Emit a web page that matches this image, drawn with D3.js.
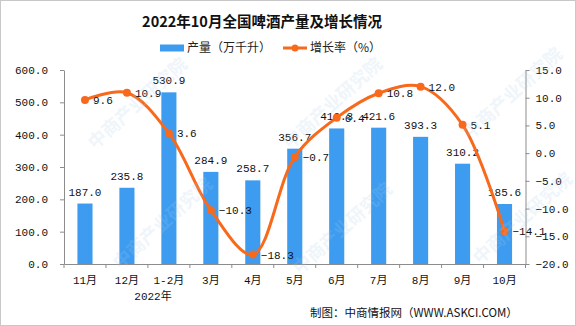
<!DOCTYPE html>
<html>
<head>
<meta charset="utf-8">
<script src="https://cdn.jsdelivr.net/npm/d3@7"></script>
<style>
  body { margin: 0; background: #fff; }
  svg { display: block; }
</style>
</head>
<body>
<script>
// 2022年10月全国啤酒产量及增长情况
const categories = ["11月", "12月", "1-2月", "3月", "4月", "5月", "6月", "7月", "8月", "9月", "10月"];
const output = [187.0, 235.8, 530.9, 284.9, 258.7, 356.7, 419.3, 421.6, 393.3, 310.2, 185.6]; // 万千升
const growth = [9.6, 10.9, 3.6, -10.3, -18.3, -0.7, 6.4, 10.8, 12.0, 5.1, -14.1]; // %
const leftTicks = [0, 100, 200, 300, 400, 500, 600];
const rightTicks = [-20, -15, -10, -5, 0, 5, 10, 15];

const width = 576, height = 326;
const margin = { top: 70, right: 50.5, bottom: 62, left: 64 };
const blue = "#3E9CF0", orange = "#F8691C", axisColor = "#8c8c8c";
const numFont = "'Liberation Mono', 'Noto Sans CJK SC', monospace";
const cjkFont = "'Noto Sans CJK SC', sans-serif";

const svg = d3.select("body")
    .append("svg")
    .attr("width", width)
    .attr("height", height);

// outer frame
svg.append("rect")
    .attr("x", 0.5).attr("y", 0.5)
    .attr("width", width - 1).attr("height", height - 1)
    .attr("fill", "#fff")
    .attr("stroke", "#c8c8c8");

const x = d3.scaleBand()
    .domain(categories)
    .range([margin.left, width - margin.right]);
const barW = x.bandwidth() * 0.36;
const cx = d => x(d) + x.bandwidth() / 2;

const yL = d3.scaleLinear().domain([0, 600]).range([height - margin.bottom, margin.top]);
const yR = d3.scaleLinear().domain([-20, 15]).range([height - margin.bottom, margin.top]);

// title
svg.append("text")
    .attr("x", 262).attr("y", 27)
    .attr("text-anchor", "middle")
    .attr("font-family", cjkFont)
    .attr("font-weight", "bold")
    .attr("font-size", "14.5px")
    .attr("fill", "#111")
    .text("2022年10月全国啤酒产量及增长情况");

// legend
const legend = svg.append("g").attr("font-family", cjkFont).attr("font-size", "12px").attr("fill", "#222");
legend.append("rect").attr("x", 160).attr("y", 44.5).attr("width", 24).attr("height", 7).attr("fill", blue);
legend.append("text").attr("x", 187).attr("y", 52).text("产量（万千升）");
legend.append("line").attr("x1", 283).attr("x2", 307).attr("y1", 48).attr("y2", 48)
    .attr("stroke", orange).attr("stroke-width", 3);
legend.append("circle").attr("cx", 295).attr("cy", 48).attr("r", 3.5).attr("fill", orange);
legend.append("text").attr("x", 310).attr("y", 52).text("增长率（%）");

// axes
const styleAxis = g => {
    g.select(".domain").attr("stroke", axisColor);
    g.selectAll(".tick line").attr("stroke", axisColor);
    g.selectAll(".tick text").attr("font-family", numFont).attr("font-size", "11px").attr("fill", "#111");
};

svg.append("g")
    .attr("transform", `translate(${margin.left},0)`)
    .call(d3.axisLeft(yL).tickValues(leftTicks).tickFormat(d3.format(".1f")).tickSize(4).tickSizeOuter(0).tickPadding(12))
    .call(styleAxis);

svg.append("g")
    .attr("transform", `translate(${width - margin.right},0)`)
    .call(d3.axisRight(yR).tickValues(rightTicks).tickFormat(d3.format(".1f")).tickSize(4).tickSizeOuter(0).tickPadding(6))
    .call(styleAxis);

const xAxis = svg.append("g")
    .attr("transform", `translate(0,${height - margin.bottom})`)
    .call(d3.axisBottom(x).tickSize(0).tickPadding(10))
    .call(styleAxis);
xAxis.selectAll(".tick text").attr("dy", "0.9em");

// category boundary ticks
svg.append("g")
    .selectAll("line")
    .data(categories.concat([null]))
    .join("line")
    .attr("x1", (d, i) => margin.left + i * x.step())
    .attr("x2", (d, i) => margin.left + i * x.step())
    .attr("y1", height - margin.bottom)
    .attr("y2", height - margin.bottom + 4)
    .attr("stroke", axisColor);

svg.append("text")
    .attr("x", 153).attr("y", 300)
    .attr("text-anchor", "middle")
    .attr("font-family", numFont)
    .attr("font-size", "11px")
    .attr("fill", "#111")
    .text("2022年");

// bars
svg.append("g")
    .selectAll("rect")
    .data(output)
    .join("rect")
    .attr("x", (d, i) => cx(categories[i]) - barW / 2)
    .attr("y", d => yL(d))
    .attr("width", barW)
    .attr("height", d => yL(0) - yL(d))
    .attr("fill", blue);

svg.append("g")
    .selectAll("text")
    .data(output)
    .join("text")
    .attr("x", (d, i) => cx(categories[i]))
    .attr("y", d => yL(d) - 8)
    .attr("text-anchor", "middle")
    .attr("font-family", numFont)
    .attr("font-size", "11px")
    .attr("fill", "#111")
    .text(d => d3.format(".1f")(d));

// growth line
const line = d3.line()
    .x((d, i) => cx(categories[i]))
    .y(d => yR(d))
    .curve(d3.curveCatmullRom.alpha(0.5));

svg.append("path")
    .datum(growth)
    .attr("d", line)
    .attr("fill", "none")
    .attr("stroke", orange)
    .attr("stroke-width", 3);

svg.append("g")
    .selectAll("circle")
    .data(growth)
    .join("circle")
    .attr("cx", (d, i) => cx(categories[i]))
    .attr("cy", d => yR(d))
    .attr("r", 4)
    .attr("fill", orange);

svg.append("g")
    .selectAll("text")
    .data(growth)
    .join("text")
    .attr("x", (d, i) => cx(categories[i]) + 8)
    .attr("y", d => yR(d) + 4)
    .attr("font-family", numFont)
    .attr("font-size", "11px")
    .attr("fill", "#111")
    .text(d => d3.format(".1f")(d));

// faint watermark
const marks = [[95, 150], [290, 150], [470, 140], [120, 270], [300, 275], [480, 265]];
svg.append("g")
    .attr("pointer-events", "none")
    .selectAll("text")
    .data(marks)
    .join("text")
    .attr("transform", d => `translate(${d[0]},${d[1]}) rotate(-42)`)
    .attr("font-family", cjkFont)
    .attr("font-weight", "bold")
    .attr("font-size", "18px")
    .attr("fill", "#a8cde9")
    .attr("opacity", 0.18)
    .text("中商产业研究院");

// source
svg.append("text")
    .attr("x", 310).attr("y", 317)
    .attr("font-family", cjkFont)
    .attr("font-size", "11.5px")
    .attr("fill", "#111")
    .text("制图：中商情报网（WWW.ASKCI.COM）");
</script>
</body>
</html>
